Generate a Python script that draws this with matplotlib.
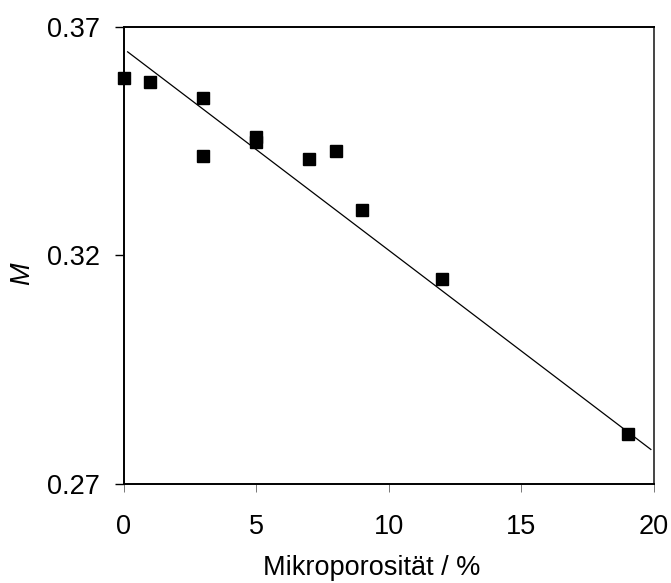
import matplotlib
matplotlib.use("Agg")
import matplotlib.pyplot as plt

plt.rcParams['font.family'] = ['Liberation Sans', 'DejaVu Sans']

# Measured samples
mikroporositaet = [0, 1, 3, 3, 5, 5, 7, 8, 9, 12, 19]
m_values = [0.3588, 0.3580, 0.3545, 0.3418, 0.3459, 0.3448, 0.3410, 0.3428, 0.3300, 0.3149, 0.2809]

# Trend line end points
trend_x = [0.15, 19.88]
trend_y = [0.3645, 0.2775]

x_ticks = [0, 5, 10, 15, 20]
y_ticks = [0.27, 0.32, 0.37]
y_tick_labels = ["0.27", "0.32", "0.37"]

FS = 19.5

fig = plt.figure(figsize=(6.71, 5.83), dpi=100)
ax = fig.add_axes([0.1843, 0.1703, 0.9747 - 0.1843, 0.9542 - 0.1703])

ax.plot(trend_x, trend_y, color='black', linewidth=0.9, zorder=2)
ax.plot(mikroporositaet, m_values, linestyle='none', marker='s', markersize=8.4,
        color='black', clip_on=False, zorder=3)

ax.set_xlim(0, 20)
ax.set_ylim(0.27, 0.37)
ax.set_xticks(x_ticks)
ax.set_xticklabels([str(t) for t in x_ticks])
ax.set_yticks(y_ticks)
ax.set_yticklabels(y_tick_labels)

ax.tick_params(axis='y', direction='out', length=6.8, width=1.0, labelsize=FS, pad=10)
ax.tick_params(axis='x', direction='out', length=6, width=0.7, color='#777777',
               labelsize=FS, pad=15.5)

for side in ['left', 'bottom', 'top']:
    ax.spines[side].set_linewidth(1.4)
    ax.spines[side].set_color('black')
ax.spines['right'].set_linewidth(1.4)
ax.spines['right'].set_color('#444444')

ax.set_xlabel("Mikroporosität / %", fontsize=FS)
ax.xaxis.set_label_coords(0.468, -0.184)
ax.xaxis.label.set_verticalalignment('center')

ax.set_ylabel("M", fontsize=FS, style='italic')
ax.yaxis.set_label_coords(-0.191, 0.459)
ax.yaxis.label.set_verticalalignment('center')

fig.savefig("out.png", dpi=100)
